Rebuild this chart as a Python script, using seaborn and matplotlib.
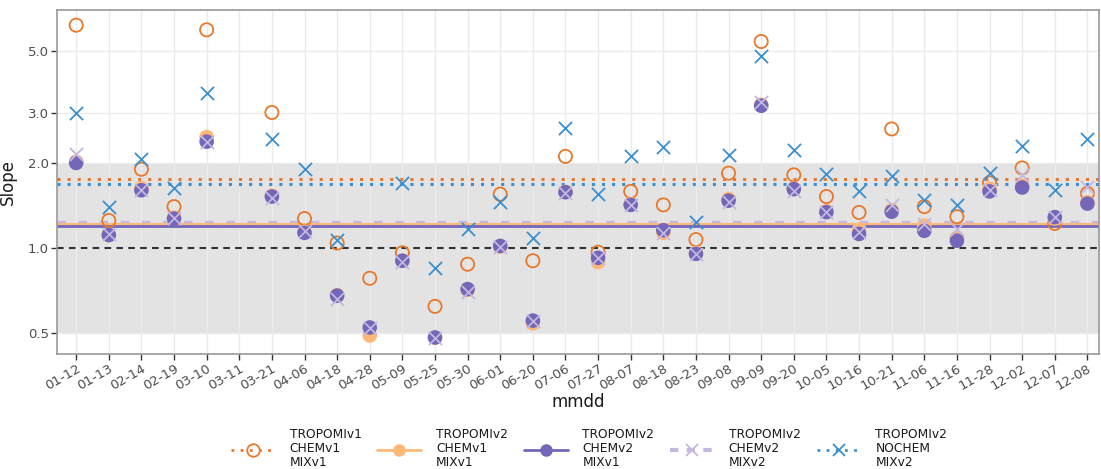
import numpy as np
import pandas as pd
import matplotlib
matplotlib.use("Agg")
import matplotlib.pyplot as plt
import seaborn as sns
from matplotlib.lines import Line2D
from matplotlib.ticker import FixedLocator, FixedFormatter, NullLocator

dates = ["01-12", "01-13", "02-14", "02-19", "03-10", "03-11", "03-21", "04-06",
         "04-18", "04-28", "05-09", "05-25", "05-30", "06-01", "06-20", "07-06",
         "07-27", "08-07", "08-18", "08-23", "09-08", "09-09", "09-20", "10-05",
         "10-16", "10-21", "11-06", "11-16", "11-28", "12-02", "12-07", "12-08"]

nan = np.nan
v1_chem1_mix1 = [6.16, 1.25, 1.90, 1.40, 5.93, nan, 3.02, 1.27, 1.04, 0.78, 0.96, 0.62,
                 0.875, 1.55, 0.90, 2.11, 0.965, 1.585, 1.42, 1.07, 1.84, 5.39, 1.815, 1.52,
                 1.335, 2.64, 1.40, 1.29, 1.70, 1.92, 1.22, 1.56]
v2_chem1_mix1 = [2.02, 1.11, 1.63, 1.28, 2.47, nan, 1.53, 1.14, 0.68, 0.489, 0.90, 0.48,
                 0.71, 1.01, 0.54, 1.58, 0.89, 1.43, 1.13, 0.96, 1.49, 3.22, 1.62, 1.35,
                 1.16, 1.36, 1.20, 1.085, 1.62, 1.66, 1.27, 1.45]
v2_chem2_mix1 = [2.00, 1.11, 1.60, 1.27, 2.38, nan, 1.52, 1.13, 0.677, 0.522, 0.90, 0.481,
                 0.714, 1.016, 0.552, 1.575, 0.922, 1.42, 1.155, 0.952, 1.47, 3.19, 1.615, 1.338,
                 1.12, 1.343, 1.149, 1.06, 1.585, 1.636, 1.285, 1.435]
v2_chem2_mix2 = [2.15, 1.12, 1.61, 1.28, 2.38, nan, 1.50, 1.15, 0.66, 0.52, 0.89, 0.48,
                 0.70, 1.01, 0.55, 1.56, 0.92, 1.42, 1.13, 0.95, 1.45, 3.30, 1.59, 1.34,
                 1.14, 1.42, 1.216, 1.17, 1.60, 1.815, 1.29, 1.64]
v2_nochem_mix2 = [3.00, 1.40, 2.06, 1.63, 3.53, nan, 2.44, 1.91, 1.067, nan, 1.70, 0.851,
                  1.165, 1.45, 1.088, 2.67, 1.55, 2.125, 2.28, 1.23, 2.14, 4.80, 2.23, 1.825,
                  1.589, 1.80, 1.476, 1.417, 1.845, 2.29, 1.60, 2.43]

# summary lines (means) per series
ref_lines = {"v1_chem1_mix1": 1.757, "v2_chem1_mix1": 1.21, "v2_chem2_mix1": 1.20,
             "v2_chem2_mix2": 1.22, "v2_nochem_mix2": 1.69}
band_low, band_high, one_line = 0.5, 2.0, 1.0

ytick_vals = [0.5, 1.0, 2.0, 3.0, 5.0]
ytick_labels = ["0.5", "1.0", "2.0", "3.0", "5.0"]

labels = ["TROPOMIv1\nCHEMv1\nMIXv1", "TROPOMIv2\nCHEMv1\nMIXv1", "TROPOMIv2\nCHEMv2\nMIXv1",
          "TROPOMIv2\nCHEMv2\nMIXv2", "TROPOMIv2\nNOCHEM\nMIXv2"]

c_or = "#e8782a"
c_lor = "#fdb878"
c_pu = "#7466b8"
c_lpu = "#c4b8e0"
c_bl = "#3b8fcf"

sns.set_theme(style="whitegrid")
plt.rcParams["font.family"] = ["DejaVu Sans"]

fig = plt.figure(figsize=(11.01, 4.69), dpi=100)
ax = fig.add_axes([0.052, 0.245, 0.946, 0.734])

x = np.arange(len(dates))
df = pd.DataFrame({"x": x, "a": v1_chem1_mix1, "b": v2_chem1_mix1, "c": v2_chem2_mix1,
                   "d": v2_chem2_mix2, "e": v2_nochem_mix2})

ax.axhspan(band_low, band_high, color="#e3e3e3", zorder=0.5, lw=0)
ax.axhline(one_line, color="#333333", ls=(0, (3.2, 2.5)), lw=1.5, zorder=1)
ax.axhline(ref_lines["v2_chem2_mix2"], color=c_lpu, ls=(0, (1.6, 2.4)), lw=3.8, zorder=1.1)
ax.axhline(ref_lines["v2_chem1_mix1"], color=c_lor, ls="-", lw=1.5, zorder=1.2)
ax.axhline(ref_lines["v2_chem2_mix1"], color=c_pu, ls="-", lw=2, zorder=1.3)
ax.axhline(ref_lines["v1_chem1_mix1"], color=c_or, ls=(0, (1, 2.3)), lw=2.2, zorder=1.4)
ax.axhline(ref_lines["v2_nochem_mix2"], color=c_bl, ls=(0, (1, 2.3)), lw=2.2, zorder=1.4)

sns.scatterplot(data=df, x="x", y="a", ax=ax, marker="o", s=90, facecolor="none",
                edgecolor=c_or, linewidth=1.3, zorder=3)
sns.scatterplot(data=df, x="x", y="b", ax=ax, marker="o", s=110, color=c_lor,
                edgecolor="none", zorder=3.1)
sns.scatterplot(data=df, x="x", y="c", ax=ax, marker="o", s=110, color=c_pu,
                edgecolor="none", zorder=3.2)
sns.scatterplot(data=df, x="x", y="d", ax=ax, marker="x", s=90, color=c_lpu,
                linewidth=1.3, zorder=3.3)
sns.scatterplot(data=df, x="x", y="e", ax=ax, marker="x", s=90, color=c_bl,
                linewidth=1.3, zorder=3.4)

ax.set_yscale("log")
ax.set_ylim(0.42, 6.98)
ax.set_xlim(-0.58, 31.35)
ax.yaxis.set_major_locator(FixedLocator(ytick_vals))
ax.yaxis.set_major_formatter(FixedFormatter(ytick_labels))
ax.yaxis.set_minor_locator(NullLocator())
ax.set_xticks(x)
ax.set_xticklabels(dates, rotation=30, ha="right", rotation_mode="anchor")
ax.tick_params(axis="both", labelsize=9.5, colors="#4d4d4d", length=4, width=1,
               direction="out", left=True, bottom=True, pad=2)
ax.tick_params(axis="both", color="#333333")
ax.set_xlabel("mmdd", fontsize=12, color="#1a1a1a", labelpad=0)
ax.set_ylabel("Slope", fontsize=12, color="#1a1a1a", labelpad=8)
ax.grid(True, color="#ebebeb", lw=1)
ax.set_axisbelow(True)
for s in ax.spines.values():
    s.set_color("#999999")
    s.set_linewidth(1.2)

handles = [
    Line2D([], [], color=c_or, ls=(0, (1, 2.3)), lw=2, marker="o", mfc="none", mec=c_or, ms=9, mew=1.3),
    Line2D([], [], color=c_lor, ls="-", lw=2, marker="o", mec="none", ms=9),
    Line2D([], [], color=c_pu, ls="-", lw=2, marker="o", mec="none", ms=9),
    Line2D([], [], color=c_lpu, ls=(0, (2, 2)), lw=3, marker="x", ms=9, mew=1.3),
    Line2D([], [], color=c_bl, ls=(0, (1, 2.3)), lw=2, marker="x", ms=9, mew=1.3),
]
leg = fig.legend(handles, labels, loc="center", bbox_to_anchor=(0.535, 0.043), ncol=5,
                 frameon=False, fontsize=8.8, handlelength=3.6, columnspacing=1.3,
                 handletextpad=1.2)
for t in leg.get_texts():
    t.set_color("#1a1a1a")
    t.set_linespacing(1.1)

fig.savefig("out.png", dpi=100)
